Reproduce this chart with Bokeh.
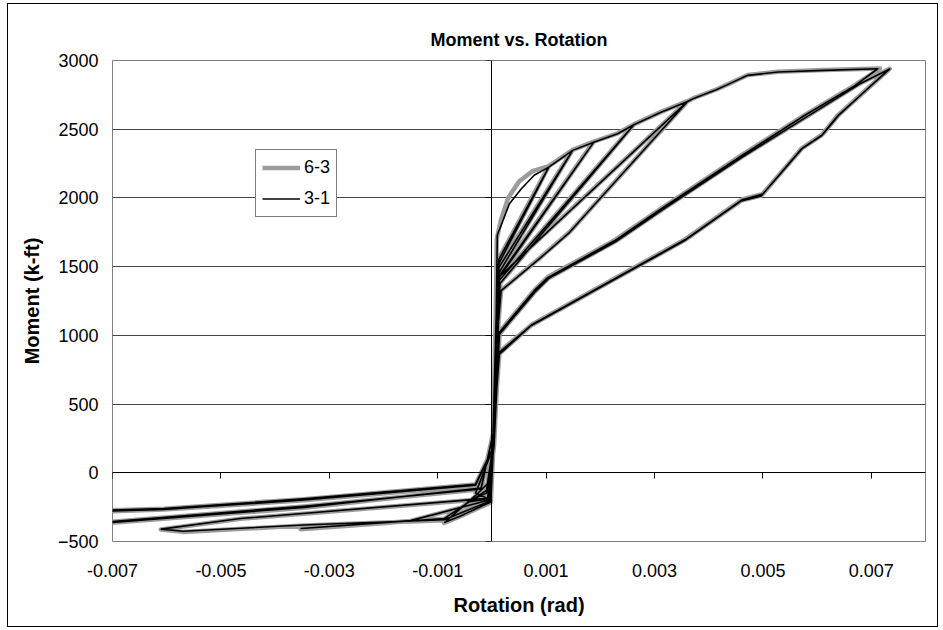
from bokeh.plotting import figure
from bokeh.models import (LinearAxis, FixedTicker, NumeralTickFormatter, BasicTickFormatter,
                          CustomJSTickFormatter, Legend, LegendItem, Range1d)
from bokeh.embed import file_html
from bokeh.resources import INLINE

FONT = "Liberation Sans"

# Axis ticks
x_ticks = [-0.007, -0.005, -0.003, -0.001, 0.001, 0.003, 0.005, 0.007]
y_ticks = [-500, 0, 500, 1000, 1500, 2000, 2500, 3000]

# Specimen 6-3: rotation (rad) and moment (k-ft), one row per loading branch
rot_63 = [
    0.0, 0.00003, 0.00007, 0.00009, 0.00016, 0.00030, 0.00050, 0.00075, 0.00105,
    0.00013, 0.00010, 0.00005, -0.00003, -0.00030, -0.00088,
    -0.00060, -0.00002, 0.00004, 0.00009, 0.00012, 0.00105, 0.00149,
    0.00013, 0.00010, 0.00004, -0.00010, -0.00088, -0.00353,
    -0.00150, -0.00005, 0.00004, 0.00010, 0.00013, 0.00149, 0.00188,
    0.00014, 0.00010, 0.00004, -0.00008, -0.00464, -0.00611,
    -0.00570, -0.00347, -0.00088, -0.00002,
    0.00004, 0.00010, 0.00013, 0.00188, 0.00232, 0.00262,
    0.00015, 0.00010, 0.00004, -0.00030, -0.00002,
    0.00004, 0.00010, 0.00013, 0.00262, 0.00312, 0.00361,
    0.00012, 0.00010, 0.00004, -0.00010, -0.00045, -0.00003,
    0.00003, 0.00010, 0.00017, 0.00090, 0.00143, 0.00361, 0.00371, 0.00414, 0.00432, 0.00472, 0.00528, 0.00613, 0.00716,
    0.00669, 0.00576, 0.00460, 0.00312, 0.00226, 0.00103, 0.00078, 0.000135, 0.00010, 0.00004, -0.00030, -0.00347, -0.00605, -0.00950,
    -0.00950, -0.00704, -0.00347, -0.00020,
    0.00003, 0.000135, 0.00072, 0.00355, 0.00460, 0.00497, 0.00534, 0.00571, 0.00608, 0.00638, 0.00734,
    0.00680, 0.00580, 0.00462, 0.00314, 0.00228, 0.00105, 0.00080, 0.00014, 0.00010, 0.00004, -0.00030, -0.00347, -0.00605, -0.00950,
    -0.00950, -0.00704, -0.00347, -0.00020,
    0.00003, 0.00014, 0.00074, 0.00357, 0.00462, 0.00500, 0.00536, 0.00573, 0.00610, 0.00640, 0.00732,
]
mom_63 = [
    0, 450, 1150, 1700, 1830, 2000, 2120, 2195, 2232,
    1560, 1000, 300, -60, -170, -365,
    -320, -215, 350, 1050, 1520, 2232, 2350,
    1500, 950, 250, -130, -335, -410,
    -350, -200, 300, 1000, 1460, 2350, 2410,
    1440, 900, 200, -189, -335, -413,
    -430, -384, -345, -205,
    300, 1000, 1420, 2410, 2470, 2535,
    1380, 900, 200, -150, -200,
    300, 1000, 1400, 2535, 2626, 2704,
    1424, 900, 200, -150, -215, -190,
    300, 1000, 1327, 1569, 1751, 2704, 2724, 2789, 2821, 2894, 2918, 2930, 2942,
    2819, 2600, 2309, 1923, 1691, 1424, 1327, 1023, 700, 200, -92, -200, -268, -310,
    -405, -358, -245, -120,
    300, 866, 1072, 1691, 1981, 2018, 2188, 2358, 2455, 2600, 2940,
    2835, 2590, 2300, 1915, 1684, 1418, 1320, 1010, 700, 200, -85, -192, -262, -303,
    -398, -365, -255, -113,
    300, 880, 1080, 1700, 1990, 2030, 2195, 2365, 2462, 2605, 2935,
]

# Specimen 3-1: rotation (rad) and moment (k-ft)
rot_31 = [
    0.0, 0.00003, 0.00008, 0.00010, 0.00018, 0.00032, 0.00054, 0.00078, 0.00105,
    0.00013, 0.00010, 0.00005, -0.00003, -0.00030, -0.00087,
    -0.00060, -0.00002, 0.00004, 0.00009, 0.00012, 0.00105, 0.00149,
    0.00013, 0.00010, 0.00004, -0.00010, -0.00088, -0.00352,
    -0.00150, -0.00005, 0.00004, 0.00010, 0.00013, 0.00149, 0.00188,
    0.00014, 0.00010, 0.00004, -0.00008, -0.00464, -0.00610,
    -0.00570, -0.00347, -0.00088, -0.00002,
    0.00004, 0.00010, 0.00013, 0.00188, 0.00232, 0.00262,
    0.00015, 0.00010, 0.00004, -0.00030, -0.00002,
    0.00004, 0.00010, 0.00013, 0.00262, 0.00312, 0.00361,
    0.00012, 0.00010, 0.00004, -0.00010, -0.00045, -0.00003,
    0.00003, 0.00010, 0.00017, 0.00090, 0.00143, 0.00361, 0.00371, 0.00414, 0.00432, 0.00472, 0.00528, 0.00613, 0.00712,
    0.00669, 0.00576, 0.00460, 0.00312, 0.00226, 0.00103, 0.00078, 0.000135, 0.00010, 0.00004, -0.00030, -0.00347, -0.00605, -0.00950,
    -0.00950, -0.00704, -0.00347, -0.00020,
    0.00003, 0.000135, 0.00072, 0.00355, 0.00460, 0.00497, 0.00534, 0.00571, 0.00608, 0.00638, 0.00734,
    0.00680, 0.00580, 0.00462, 0.00314, 0.00228, 0.00105, 0.00080, 0.00014, 0.00010, 0.00004, -0.00030, -0.00347, -0.00605, -0.00950,
    -0.00950, -0.00704, -0.00347, -0.00020,
    0.00003, 0.00014, 0.00074, 0.00357, 0.00462, 0.00500, 0.00536, 0.00573, 0.00610, 0.00640, 0.00732,
]
mom_31 = [
    0, 430, 1150, 1730, 1810, 1955, 2065, 2165, 2224,
    1555, 1000, 300, -60, -165, -360,
    -318, -212, 350, 1050, 1515, 2224, 2346,
    1495, 950, 250, -128, -333, -405,
    -348, -198, 300, 1000, 1455, 2346, 2406,
    1436, 900, 200, -186, -333, -410,
    -425, -380, -342, -203,
    300, 1000, 1418, 2406, 2467, 2533,
    1378, 900, 200, -148, -198,
    300, 1000, 1398, 2533, 2624, 2702,
    1420, 900, 200, -148, -212, -188,
    300, 1000, 1325, 1565, 1748, 2702, 2722, 2787, 2819, 2892, 2916, 2928, 2940,
    2815, 2598, 2305, 1920, 1688, 1420, 1325, 1020, 700, 200, -90, -198, -266, -308,
    -402, -355, -243, -118,
    300, 862, 1070, 1688, 1978, 2015, 2185, 2355, 2452, 2598, 2938,
    2832, 2588, 2298, 1912, 1680, 1415, 1318, 1008, 700, 200, -83, -190, -260, -301,
    -395, -362, -252, -111,
    300, 878, 1078, 1697, 1987, 2028, 2192, 2362, 2460, 2602, 2933,
]

p = figure(width=929, height=622,
           x_range=Range1d(-0.007, 0.008), y_range=Range1d(-500, 3000),
           output_backend="svg", toolbar_location=None,
           min_border_left=104, min_border_right=12,
           min_border_top=56, min_border_bottom=85)
p.margin = (4, 0, 0, 8)
p.styles = {"outline": "1px solid black"}
p.background_fill_color = "white"
p.border_fill_color = "white"
p.outline_line_color = "#808080"
p.outline_line_width = 1

# Title
p.title.text = "Moment vs. Rotation"
p.title.align = "center"
p.title.text_font = FONT
p.title.text_font_size = "18px"
p.title.text_font_style = "bold"
p.title.text_color = "black"
p.title.standoff = 22

# Label-only axes along the frame edges
xa = p.xaxis[0]
xa.ticker = FixedTicker(ticks=x_ticks)
xa.formatter = NumeralTickFormatter(format="0.000")
xa.axis_line_color = None
xa.major_tick_line_color = None
xa.minor_tick_line_color = None
xa.major_tick_out = 0
xa.major_label_standoff = 22
xa.major_label_text_font = FONT
xa.major_label_text_font_size = "18px"
xa.major_label_text_color = "black"
xa.axis_label = "Rotation (rad)"
xa.axis_label_text_font = FONT
xa.axis_label_text_font_size = "20px"
xa.axis_label_text_font_style = "bold"
xa.axis_label_text_color = "black"
xa.axis_label_standoff = 14

ya = p.yaxis[0]
ya.ticker = FixedTicker(ticks=y_ticks)
ya.formatter = BasicTickFormatter()
ya.axis_line_color = None
ya.major_tick_line_color = None
ya.minor_tick_line_color = None
ya.major_tick_out = 0
ya.major_label_standoff = 14
ya.major_label_text_font = FONT
ya.major_label_text_font_size = "18px"
ya.major_label_text_color = "black"
ya.axis_label = "Moment (k-ft)"
ya.axis_label_text_font = FONT
ya.axis_label_text_font_size = "20px"
ya.axis_label_text_font_style = "bold"
ya.axis_label_text_color = "black"
ya.axis_label_standoff = 12

# Axes crossing at the origin (ticks point down / left)
blank = CustomJSTickFormatter(code="return ''")
x0 = LinearAxis(fixed_location=0, ticker=FixedTicker(ticks=x_ticks), formatter=blank,
                axis_line_color="black", axis_line_width=1,
                major_tick_line_color="black", major_tick_out=0, major_tick_in=6,
                minor_tick_line_color=None, major_label_standoff=0,
                major_label_text_font_size="1px")
y0 = LinearAxis(fixed_location=0, ticker=FixedTicker(ticks=y_ticks), formatter=blank,
                axis_line_color="black", axis_line_width=1,
                major_tick_line_color="black", major_tick_out=0, major_tick_in=6,
                minor_tick_line_color=None, major_label_standoff=0,
                major_label_text_font_size="1px")
p.add_layout(x0, "above")
p.add_layout(y0, "right")

# Gridlines
p.xgrid.visible = False
p.ygrid.grid_line_color = "#454545"
p.ygrid.grid_line_width = 1

r63 = p.line(rot_63, mom_63, line_color="#9c9c9c", line_width=4.5, line_join="round")
r31 = p.line(rot_31, mom_31, line_color="black", line_width=1.6, line_join="round")

legend = Legend(items=[LegendItem(label="6-3", renderers=[r63]),
                       LegendItem(label="3-1", renderers=[r31])],
                location=(143, 324), orientation="vertical",
                border_line_color="black", border_line_width=1,
                background_fill_color="white", background_fill_alpha=1.0,
                label_text_font=FONT, label_text_font_size="18px",
                label_text_color="black",
                glyph_width=38, glyph_height=23, label_standoff=4,
                padding=6, spacing=8, margin=0)
p.add_layout(legend)

open("out.html", "w").write(file_html(p, INLINE))
